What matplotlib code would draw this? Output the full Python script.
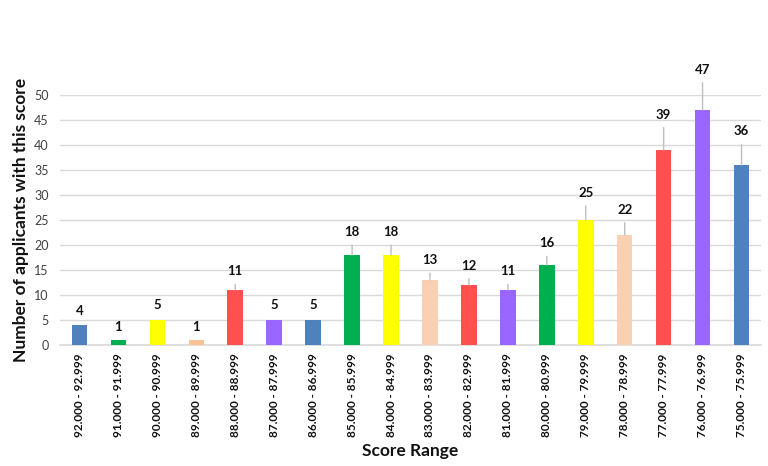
import matplotlib
matplotlib.use("Agg")
import matplotlib.pyplot as plt

# score ranges (left to right) and number of applicants
ranges = ["92.000 - 92.999", "91.000 - 91.999", "90.000 - 90.999", "89.000 - 89.999",
          "88.000 - 88.999", "87.000 - 87.999", "86.000 - 86.999", "85.000 - 85.999",
          "84.000 - 84.999", "83.000 - 83.999", "82.000 - 82.999", "81.000 - 81.999",
          "80.000 - 80.999", "79.000 - 79.999", "78.000 - 78.999", "77.000 - 77.999",
          "76.000 - 76.999", "75.000 - 75.999"]
counts = [4, 1, 5, 1, 11, 5, 5, 18, 18, 13, 12, 11, 16, 25, 22, 39, 47, 36]

BLUE, GREEN, YELLOW, PEACH, RED, PURPLE = "#4F81BD", "#00B050", "#FFFF00", "#FAD0B2", "#FF5050", "#9966FF"
bar_colors = [BLUE, GREEN, YELLOW, "#FBC393", RED, PURPLE,
              BLUE, GREEN, YELLOW, PEACH, RED, PURPLE,
              GREEN, YELLOW, PEACH, RED, PURPLE, BLUE]

plt.rcParams['font.family'] = ['Lato', 'DejaVu Sans']

fig = plt.figure(figsize=(7.68, 4.66), dpi=100)
ax = fig.add_axes([60 / 768, 121 / 466, 701 / 768, 250 / 466])

x = list(range(len(counts)))
ax.bar(x, counts, width=0.4, color=bar_colors, zorder=3)

ax.set_xlim(-0.5, len(counts) - 0.5)
ax.set_ylim(0, 50)
ax.set_yticks(range(0, 51, 5))
ax.grid(axis='y', color='#D9D9D9', linewidth=1, zorder=0)
for s in ['top', 'right', 'left']:
    ax.spines[s].set_visible(False)
ax.spines['bottom'].set_color('#D9D9D9')
ax.spines['bottom'].set_linewidth(1.2)
ax.tick_params(length=0)
ax.tick_params(axis='y', labelsize=9, labelcolor='#404040', pad=8)

ax.set_xticks(x)
ax.set_xticklabels(ranges, rotation=90, fontsize=8.5, fontweight='bold', color='#111111')
ax.tick_params(axis='x', pad=6)

# data labels with leader lines (excel-like)
for xi, v in zip(x, counts):
    off = 6 + 0.6 * v
    arrow = None
    if off > 10:
        arrow = dict(arrowstyle='-', color='#BFBFBF', lw=1, shrinkA=3, shrinkB=0,
                     relpos=(0.5, 0))
    ax.annotate(str(v), xy=(xi, v), xytext=(0, off), textcoords='offset pixels',
                ha='center', va='bottom', fontsize=9.5, fontweight='bold',
                color='#111111', arrowprops=arrow, annotation_clip=False)

ax.set_ylabel("Number of applicants with this score", fontsize=12.5, fontweight='bold',
              color='#111111', labelpad=4)
ax.set_xlabel("Score Range", fontsize=12.5, fontweight='bold', color='#111111', labelpad=4)

fig.savefig("out.png", dpi=100)
